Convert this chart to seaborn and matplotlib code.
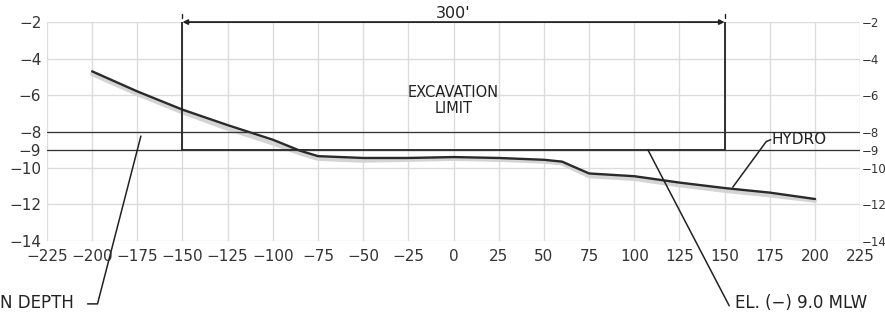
import numpy as np
import pandas as pd
import seaborn as sns
import matplotlib.pyplot as plt

# station (ft) vs elevation (ft MLW)
station = [-200, -175, -150, -125, -100, -85, -75, -50, -25, 0, 25, 50, 60, 75, 100, 125, 150, 175, 200]
hydro = [-4.7, -5.8, -6.8, -7.65, -8.45, -9.05, -9.35, -9.45, -9.45, -9.4, -9.45, -9.55, -9.65, -10.3, -10.45, -10.8, -11.1, -11.35, -11.7]
survey = [-4.85, -5.95, -6.95, -7.85, -8.65, -9.2, -9.5, -9.6, -9.55, -9.5, -9.55, -9.65, -9.75, -10.45, -10.6, -10.95, -11.25, -11.5, -11.8]

x_ticks = list(range(-225, 226, 25))
y_ticks = [-2, -4, -6, -8, -9, -10, -12, -14]
excav_x = [-150, 150]
excav_y = [-9, -2]
design_el = -9
hydro_level = -8

df = pd.DataFrame({'station': station, 'hydro': hydro, 'survey': survey})

sns.set_style('whitegrid')
fig = plt.figure(figsize=(8.85, 3.2), dpi=100)
ax = fig.add_axes([0.053, 0.247, 0.919, 0.684])

sns.lineplot(data=df, x='station', y='survey', color='#d4d4d4', lw=3, ax=ax)
sns.lineplot(data=df, x='station', y='hydro', color='#2a2a2a', lw=1.7, ax=ax)

# excavation limit box
ax.plot([excav_x[0], excav_x[0], excav_x[1], excav_x[1]],
        [excav_y[1], excav_y[0], excav_y[0], excav_y[1]], color='#222222', lw=1.3)
ax.annotate('', xy=(excav_x[0], excav_y[1]), xytext=(excav_x[1], excav_y[1]),
            arrowprops=dict(arrowstyle='<|-|>', color='#222222', lw=1.3, mutation_scale=7,
                            shrinkA=0, shrinkB=0), annotation_clip=False)
for xv in excav_x:
    ax.plot([xv, xv], [-1.55, -1.75], color='#222222', lw=1, clip_on=False)
ax.text(0, -1.95, "300'", ha='center', va='bottom', fontsize=11.5, color='#222222')
ax.text(0, -6.3, 'EXCAVATION\nLIMIT', ha='center', va='center', fontsize=10.5,
        color='#222222', linespacing=1.1)

ax.axhline(hydro_level, color='#333333', lw=0.9)
ax.axhline(design_el, color='#333333', lw=0.9)

# leaders
ax.plot([154.5, 173, 175.5], [-11.05, -8.55, -8.45], color='#222222', lw=1.1)
ax.text(176, -8.45, 'HYDRO', ha='left', va='center', fontsize=11, color='#222222')
ax.plot([-173, -197, -202.5], [-8.25, -17.45, -17.45], color='#222222', lw=1.1, clip_on=False)
ax.plot([107.5, 152.5], [-9.0, -17.55], color='#222222', lw=1.1, clip_on=False)
fig.text(0.0, 0.052, 'N DEPTH', ha='left', va='center', fontsize=12, color='#222222')
fig.text(0.831, 0.052, 'EL. (\u2212) 9.0 MLW', ha='left', va='center', fontsize=12, color='#222222')

ax.set_xlim(-225, 225)
ax.set_ylim(-14, -2)
ax.set_xticks(x_ticks)
ax.set_yticks(y_ticks)
ax.set_xlabel('')
ax.set_ylabel('')
ax.grid(True, color='#dcdcdc', lw=1)
for s in ax.spines.values():
    s.set_visible(False)
ax.tick_params(length=0, labelsize=11, labelcolor='#333333')
ax.tick_params(axis='x', pad=6)
ax.tick_params(axis='y', pad=4)

# elevation labels repeated on the right edge
ax2 = ax.twinx()
ax2.set_ylim(-14, -2)
ax2.set_yticks(y_ticks)
ax2.grid(False)
for s in ax2.spines.values():
    s.set_visible(False)
ax2.tick_params(length=0, pad=1, labelsize=8.5, labelcolor='#333333')

fig.savefig('out.png', dpi=100)
